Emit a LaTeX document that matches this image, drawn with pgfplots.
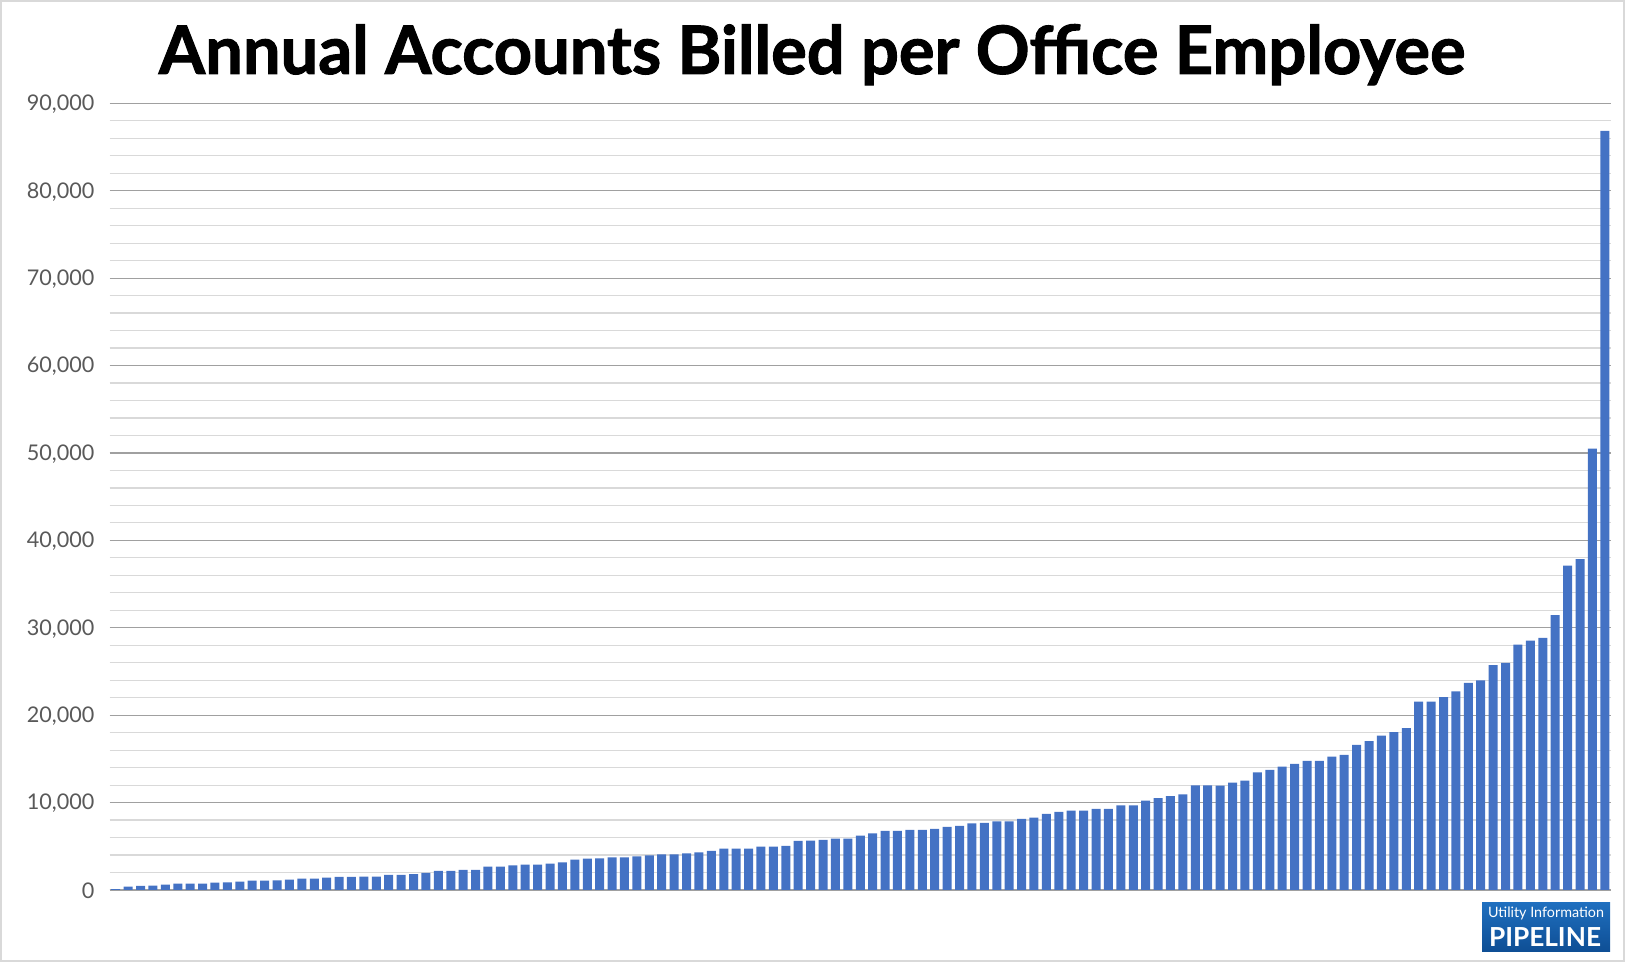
\documentclass[border=0pt]{standalone}
\usepackage{fontspec}
\setmainfont{Lato}
\newfontfamily\titlefont[BoldFeatures={FakeBold=1.5}]{Lato}
\usepackage{pgfplots}
\pgfplotsset{compat=1.18}
\definecolor{barblue}{HTML}{4472C4}
\definecolor{majgrid}{HTML}{A0A0A0}
\definecolor{mingrid}{HTML}{D9D9D9}
\definecolor{ticktext}{HTML}{595959}
\definecolor{logoblue}{HTML}{1F6FBF}
\definecolor{logodark}{HTML}{0E4E94}
\begin{document}
\begin{tikzpicture}
\useasboundingbox (0,0) rectangle (812.5pt,481pt);
\draw[gray!30, line width=1pt] (0.5pt,0.5pt) rectangle (812pt,480.5pt);
\begin{axis}[
  at={(54.75pt,36pt)}, anchor=south west,
  scale only axis, width=750.75pt, height=393.35pt,
  xmin=0.5, xmax=121.5, ymin=0, ymax=90000,
  ybar, bar width=4.5pt,
  xtick=\empty,
  ytick={0,10000,...,90000},
  minor y tick num=4,
  ymajorgrids, yminorgrids,
  major grid style={draw=majgrid, line width=0.6pt},
  minor grid style={draw=mingrid, line width=0.6pt},
  axis x line*=bottom, axis y line*=left,
  y axis line style={draw=none},
  x axis line style={draw=majgrid, line width=0.8pt, -},
  major tick length=0pt, minor tick length=0pt,
  yticklabel style={font=\fontsize{10.8}{12}\selectfont, text=ticktext, xshift=-4pt, yshift=-0.5pt},
  /pgf/number format/1000 sep={,},
  /pgf/number format/assume math mode=true,
  scaled y ticks=false,
  clip=false,
]
\addplot[fill=barblue, draw=none] coordinates {
(1,100) (2,400) (3,460) (4,500) (5,610) (6,720) (7,720) (8,730) (9,840) (10,880)
(11,950) (12,1070) (13,1070) (14,1100) (15,1180) (16,1300) (17,1300) (18,1410) (19,1490) (20,1490)
(21,1530) (22,1530) (23,1720) (24,1720) (25,1830) (26,1950) (27,2180) (28,2180) (29,2290) (30,2290)
(31,2670) (32,2670) (33,2820) (34,2900) (35,2900) (36,3030) (37,3170) (38,3470) (39,3590) (40,3630)
(41,3740) (42,3740) (43,3850) (44,3970) (45,4080) (46,4080) (47,4200) (48,4310) (49,4470) (50,4730)
(51,4730) (52,4730) (53,4960) (54,4960) (55,5040) (56,5610) (57,5650) (58,5730) (59,5880) (60,5880)
(61,6220) (62,6490) (63,6760) (64,6760) (65,6870) (66,6870) (67,6980) (68,7210) (69,7330) (70,7630)
(71,7670) (72,7840) (73,7860) (74,8130) (75,8280) (76,8700) (77,8930) (78,9080) (79,9080) (80,9270)
(81,9270) (82,9690) (83,9690) (84,10230) (85,10500) (86,10730) (87,10950) (88,11980) (89,11980) (90,11950)
(91,12290) (92,12520) (93,13470) (94,13740) (95,14120) (96,14430) (97,14770) (98,14770) (99,15270) (100,15460)
(101,16600) (102,17020) (103,17670) (104,18050) (105,18510) (106,21550) (107,21550) (108,22070) (109,22710) (110,23700)
(111,23990) (112,25740) (113,25980) (114,28070) (115,28540) (116,28830) (117,31450) (118,37100) (119,37860) (120,50490)
(121,86840)
};
\end{axis}
\node[anchor=base, inner sep=0pt, font=\titlefont\bfseries] at (406pt,444pt) {\resizebox{653pt}{!}{Annual Accounts Billed per Office Employee}};
\shade[top color=logoblue, bottom color=logodark] (741pt,5pt) rectangle (805pt,29.5pt);
\node[anchor=base, inner sep=0pt, text=white] at (773pt,22pt) {\resizebox{58pt}{!}{Utility Information}};
\node[anchor=base, inner sep=0pt, text=white, font=\bfseries] at (772.5pt,7.5pt) {\resizebox{56pt}{!}{PIPELINE}};
\end{tikzpicture}
\end{document}
